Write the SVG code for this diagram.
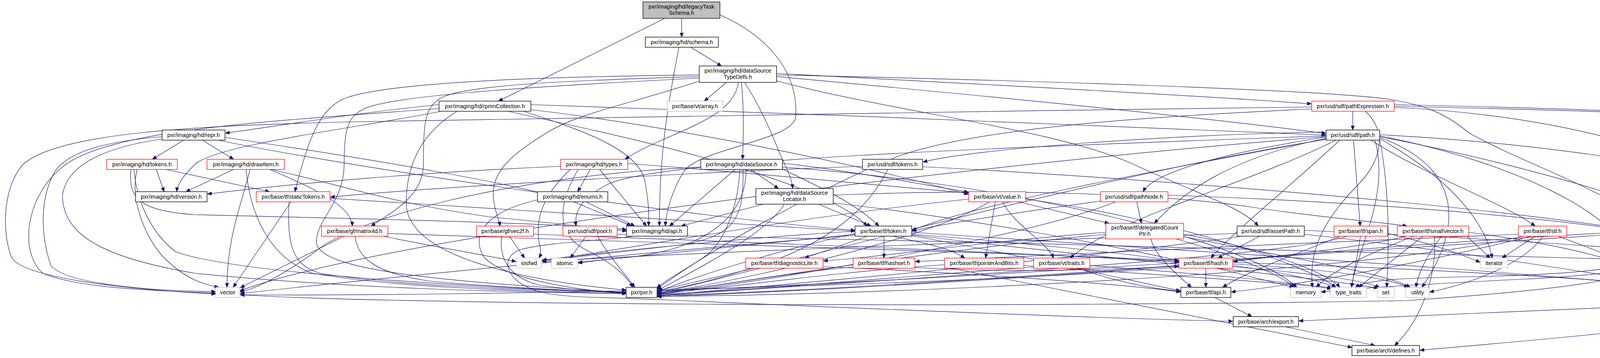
<svg xmlns="http://www.w3.org/2000/svg" width="4979" height="917" viewBox="0 0 4979 917">
<style>
text{font-family:"Liberation Sans",Arial,sans-serif;font-size:14.3px;fill:#000;text-anchor:middle}
.n rect{fill:#fff;stroke-width:1.3}
.k rect{stroke:#333;stroke-width:1.7}
.r rect{stroke:#f00}
.g rect{stroke:#bfbfbf}
#edges path{fill:none;stroke:#191970;stroke-width:1.2;marker-end:url(#ah)}
</style>
<defs>
<marker id="ah" markerUnits="userSpaceOnUse" markerWidth="12" markerHeight="9" refX="11" refY="4.5" orient="auto"><path d="M0,0 L11,4.5 L0,9 z" fill="#191970" stroke="#191970" stroke-width="1"/></marker>
</defs>
<rect x="0" y="0" width="4979" height="917" fill="#fff"/>
<g id="edges">
<path d="M1745,47 L1745,95"/>
<path d="M1702,47 L1276,259"/>
<path d="M1843,38 C1960,90 2045,180 2037,300 C2030,360 1790,380 1750,440 C1720,490 1706,540 1703,579"/>
<path d="M1768,121 L1847,169"/>
<path d="M1738,121 C1712,260 1688,380 1688,579"/>
<path d="M1860,211 L1803,259"/>
<path d="M1890,211 C1880,310 1700,340 1600,408"/>
<path d="M1898,211 C1905,280 1903,350 1901,408"/>
<path d="M1906,211 C1945,270 1975,340 1995,390 C2012,430 2028,455 2029,483"/>
<path d="M1790,208 C1600,270 1480,290 1400,340 C1300,400 1250,450 1265,520 C1270,550 1278,565 1280,579"/>
<path d="M1790,192 C1500,195 1000,205 880,253 C820,280 790,350 755,491"/>
<path d="M1790,196 C1500,205 1200,215 1130,250 C1090,275 1084,300 1084,420 C1084,500 1010,540 950,579"/>
<path d="M1790,200 C1500,215 1000,240 930,280 C890,300 881,330 881,420 C881,520 810,560 810,620 C812,690 1100,720 1603,749"/>
<path d="M1988,188 C2300,205 3000,240 3357,266"/>
<path d="M1988,196 C2300,225 3000,290 3394,342"/>
<path d="M1988,207 C2300,290 2700,330 2900,420 C3050,490 3180,530 3221,579"/>
<path d="M1988,192 C2600,205 3400,230 3560,255 C3650,270 3700,290 3760,340 C3900,420 4150,500 4209,579"/>
<path d="M1124,268 C900,290 700,325 577,341"/>
<path d="M1130,285 C900,330 560,370 500,420 C470,450 455,470 452,491"/>
<path d="M1340,285 C1480,330 1630,380 1650,460 C1660,510 1662,550 1660,579"/>
<path d="M1359,281 C1700,320 2200,420 2479,498"/>
<path d="M1359,268 C2000,290 3000,325 3394,346"/>
<path d="M1124,278 C700,310 300,330 170,420 C60,500 50,650 110,700 C200,740 420,745 552,751"/>
<path d="M1170,285 C1080,340 1040,420 1040,520 C1040,660 1350,720 1603,743"/>
<path d="M1300,285 C1500,330 2100,450 2220,579"/>
<path d="M470,359 L390,408"/>
<path d="M518,359 L598,408"/>
<path d="M558,359 C900,430 1800,560 2189,590"/>
<path d="M415,350 C300,360 180,380 140,440 C95,520 110,620 130,680 C170,730 400,745 552,747"/>
<path d="M415,356 C250,380 170,430 160,500 C160,600 260,660 500,700 C900,740 1300,748 1603,752"/>
<path d="M576,352 C900,400 1400,480 1500,530 C1560,555 1600,570 1615,579"/>
<path d="M400,434 L420,491"/>
<path d="M425,434 L690,491"/>
<path d="M351,434 C330,520 380,620 420,660 C480,720 530,730 560,736"/>
<path d="M343,434 C350,520 390,600 450,645 C600,700 1200,735 1603,750"/>
<path d="M335,434 C330,500 345,540 500,550 C900,560 1400,570 1604,588"/>
<path d="M598,434 L476,491"/>
<path d="M690,434 C850,500 900,540 902,579"/>
<path d="M694,434 C880,475 1000,520 1250,555 C1450,575 1550,585 1604,592"/>
<path d="M630,434 C640,550 690,660 800,700 C1000,735 1300,745 1603,752"/>
<path d="M640,434 C620,520 582,600 581,736"/>
<path d="M745,517 L597,736"/>
<path d="M740,517 C735,620 745,680 820,700 C1000,730 1300,742 1603,748"/>
<path d="M845,508 C1200,530 1900,575 2189,592"/>
<path d="M881,605 L615,737"/>
<path d="M981,605 C1100,630 1250,655 1321,670"/>
<path d="M909,605 C915,660 960,700 1100,720 C1300,738 1500,745 1603,750"/>
<path d="M993,598 C1600,620 2700,650 3018,668"/>
<path d="M1304,605 L1343,661"/>
<path d="M1284,605 C1278,660 1300,710 1380,730 C1480,745 1560,748 1603,750"/>
<path d="M1366,600 C1900,620 2700,650 3018,672"/>
<path d="M1511,434 L1479,491"/>
<path d="M1535,434 L1655,579"/>
<path d="M1435,426 C1100,440 750,470 531,497"/>
<path d="M1607,419 C1900,440 2300,480 2479,494"/>
<path d="M1480,434 C1430,520 1420,600 1500,640 C1560,670 1600,700 1620,736"/>
<path d="M1460,434 C1390,500 1370,560 1380,620 C1385,640 1385,650 1380,661"/>
<path d="M1922,434 L1993,483"/>
<path d="M1882,434 L1714,579"/>
<path d="M2003,433 C2100,480 2190,520 2250,579"/>
<path d="M2003,418 C2200,440 2400,480 2479,492"/>
<path d="M1894,434 C1890,520 1860,620 1800,660 C1740,700 1700,720 1682,738"/>
<path d="M1902,434 C1905,560 1880,600 1760,625 C1600,645 1450,660 1388,668"/>
<path d="M1910,434 C1910,560 1800,640 1600,660 C1520,668 1490,672 1480,674"/>
<path d="M2003,428 C2600,470 3200,620 3320,736"/>
<path d="M1794,428 C1300,450 900,560 800,650 C700,720 650,740 614,748"/>
<path d="M2208,426 C1800,440 1100,480 846,505"/>
<path d="M2362,427 C3000,460 4300,560 4470,661"/>
<path d="M2273,434 C2230,520 2150,600 2000,660 C1850,715 1750,735 1682,748"/>
<path d="M1500,517 L1625,579"/>
<path d="M1376,512 C1250,540 1200,600 1240,660 C1300,720 1500,745 1603,752"/>
<path d="M1954,523 L1744,579"/>
<path d="M2095,523 L2230,579"/>
<path d="M2008,523 C1960,600 1800,680 1682,745"/>
<path d="M2133,500 C2600,480 3000,500 3200,530 C3400,560 3550,570 3602,579"/>
<path d="M2133,520 C2500,560 2900,640 3018,668"/>
<path d="M1500,605 L1460,661"/>
<path d="M1530,605 C1560,660 1600,700 1625,736"/>
<path d="M1580,600 C2500,620 3800,650 4449,672"/>
<path d="M1623,605 C1560,615 1400,620 1330,640 C1280,660 1290,720 1380,747 C1450,765 1550,760 1700,768 C2200,790 2800,815 3156,823"/>
<path d="M2221,605 L2060,661"/>
<path d="M2263,605 L2263,661"/>
<path d="M2285,605 C2350,620 2420,630 2470,661"/>
<path d="M2334,600 C2600,620 2900,650 3018,670"/>
<path d="M2334,604 C2600,650 2900,720 3022,745"/>
<path d="M2189,598 C2000,640 1800,700 1682,748"/>
<path d="M2189,592 C1900,610 1600,640 1388,666"/>
<path d="M2189,600 C1900,630 1600,660 1480,672"/>
<path d="M2189,603 C1600,650 900,720 615,752"/>
<path d="M2334,595 C3000,640 4000,700 4383,748"/>
<path d="M2334,602 C2800,660 3300,700 3528,738"/>
<path d="M3532,350 C3900,420 4400,560 4490,661"/>
<path d="M3395,348 C2500,380 1700,410 1560,470 C1480,510 1470,550 1475,579"/>
<path d="M3395,338 C3000,345 2500,380 2363,415"/>
<path d="M3395,354 C3150,405 3030,490 2955,572"/>
<path d="M3395,351 C3080,400 2950,450 2926,491"/>
<path d="M3465,359 L3482,579"/>
<path d="M3510,359 C3650,450 3850,520 3930,579"/>
<path d="M3395,356 C3000,430 2500,520 2335,590"/>
<path d="M3420,359 C3200,470 2850,560 2740,661"/>
<path d="M3532,355 C3700,450 3800,560 3820,661"/>
<path d="M3532,357 C3560,500 3555,650 3550,736"/>
<path d="M3532,345 C4200,380 4700,500 4700,600 C4700,700 4500,745 4443,749"/>
<path d="M3520,359 C3560,500 3470,650 3460,736"/>
<path d="M3532,352 C3800,450 3700,650 3640,736"/>
<path d="M3395,350 C2500,420 1000,600 614,745"/>
<path d="M3532,348 C3900,420 4150,560 4170,661"/>
<path d="M3395,357 C2800,450 2000,680 1682,752"/>
<path d="M3430,359 C3300,480 3150,600 3100,661"/>
<path d="M2548,517 L2523,661"/>
<path d="M2566,517 C2600,580 2680,620 2697,661"/>
<path d="M2607,517 L2839,572"/>
<path d="M2533,517 C2400,600 2000,700 1682,752"/>
<path d="M2480,510 C2000,560 1600,640 1388,668"/>
<path d="M2626,510 C3000,560 3350,680 3420,736"/>
<path d="M2910,517 L2922,572"/>
<path d="M2990,500 C3600,520 4300,580 4480,661"/>
<path d="M2856,517 C2650,600 2100,700 1682,755"/>
<path d="M2817,515 C2600,545 2400,575 2335,592"/>
<path d="M2946,612 C2960,660 3010,700 3050,736"/>
<path d="M3010,612 C3150,650 3270,700 3316,736"/>
<path d="M2831,600 C2400,640 1900,720 1682,754"/>
<path d="M2831,595 C2500,620 2250,660 2108,668"/>
<path d="M3030,600 C3250,640 3400,700 3430,736"/>
<path d="M3030,606 C3300,660 3550,700 3610,736"/>
<path d="M3225,605 L3118,661"/>
<path d="M3339,590 C3800,610 4300,640 4450,668"/>
<path d="M3180,605 C2800,660 2000,730 1682,757"/>
<path d="M3339,600 C3800,650 4200,720 4383,750"/>
<path d="M3167,598 C2500,620 1700,650 1388,670"/>
<path d="M3483,605 L3460,736"/>
<path d="M3552,598 C3650,620 3740,650 3789,672"/>
<path d="M3448,605 C3300,660 2200,720 1682,758"/>
<path d="M3430,605 C3350,640 3200,690 3130,736"/>
<path d="M3672,605 C3680,700 3640,820 3570,885"/>
<path d="M3643,605 L3478,736"/>
<path d="M3755,605 L3815,661"/>
<path d="M3760,595 C3950,620 4080,650 4139,672"/>
<path d="M3620,605 C3500,650 3400,700 3370,736"/>
<path d="M3690,605 C3650,660 3630,700 3625,736"/>
<path d="M3600,605 C3300,680 2200,740 1682,760"/>
<path d="M3930,605 L3845,661"/>
<path d="M3989,605 L4137,661"/>
<path d="M3887,600 C3400,620 2700,650 2343,670"/>
<path d="M3950,605 C3900,680 3750,730 3660,748"/>
<path d="M3920,605 C3700,660 3400,720 3152,748"/>
<path d="M3900,605 C3500,700 2300,755 1683,759"/>
<path d="M4280,605 C4370,650 4400,700 4413,736"/>
<path d="M4230,605 L4193,661"/>
<path d="M4138,600 C3500,640 2400,720 1682,745"/>
<path d="M4138,595 C3700,620 3300,650 3157,670"/>
<path d="M4243,605 C4245,680 4200,700 3900,715 C3600,730 3450,740 3382,748"/>
<path d="M4255,605 C4280,680 4100,700 3800,708 C3600,712 3500,715 3470,736"/>
<path d="M4265,605 C4330,700 4100,735 3600,770 C2500,790 1000,780 615,755"/>
<path d="M1932,687 L1685,744"/>
<path d="M2107,683 C2500,700 2900,730 3022,748"/>
<path d="M2184,684 C2000,700 1800,740 1682,750"/>
<path d="M2342,685 C2600,700 2850,690 3018,682"/>
<path d="M2420,684 L3461,890"/>
<path d="M2418,678 C2100,700 1850,740 1682,752"/>
<path d="M2621,680 C2900,700 3300,725 3410,737"/>
<path d="M2646,684 C2300,710 1900,745 1682,754"/>
<path d="M2790,680 C3050,700 3300,720 3408,740"/>
<path d="M2760,687 C2850,720 2950,740 3022,746"/>
<path d="M3087,687 L3087,736"/>
<path d="M3115,687 L3312,736"/>
<path d="M3156,680 C3300,700 3380,720 3420,736"/>
<path d="M3156,683 C3350,700 3480,715 3532,736"/>
<path d="M3156,676 C3400,690 3550,710 3605,736"/>
<path d="M3156,672 C3700,690 4200,720 4383,745"/>
<path d="M3018,684 C2500,730 1200,760 615,755"/>
<path d="M3018,680 C2600,710 2000,750 1682,757"/>
<path d="M3110,762 L3205,811"/>
<path d="M4516,687 C4510,740 4460,770 4300,780 C3900,800 3500,815 3325,822"/>
<path d="M3290,837 L3520,885"/>
<path d="M3463,285 L3463,333"/>
<path d="M3569,275 C4100,300 4560,450 4540,661"/>
<path d="M3569,268 C4300,285 4860,300 4871,420 L4871,600 C4870,690 4600,740 4443,749"/>
<path d="M3569,272 C4300,290 4930,300 4935,420 L4935,640 C4930,780 4300,840 3635,897"/>
<path d="M3358,274 C2500,285 1500,300 900,312 C500,322 150,340 60,420 C5,480 5,600 30,660 C60,710 300,740 552,753"/>
<path d="M3358,279 C2900,300 2500,330 2300,400 C2100,480 1800,650 1682,741"/>
<path d="M3495,285 C3545,330 3545,400 3480,470 C3380,570 3350,650 3360,736"/>
</g>
<g id="n1" class="n k"><rect x="1646" y="5" width="197" height="42" style="fill:#bfbfbf"/><text x="1744.5" y="22">pxr/imaging/hd/legacyTask</text><text x="1744.5" y="38">Schema.h</text></g>
<g id="n2" class="n k"><rect x="1652" y="95" width="187" height="26"/><text x="1745.5" y="113">pxr/imaging/hd/schema.h</text></g>
<g id="n3" class="n k"><rect x="1790" y="169" width="198" height="42"/><text x="1889" y="186">pxr/imaging/hd/dataSource</text><text x="1889" y="202">TypeDefs.h</text></g>
<g id="n4" class="n k"><rect x="1124" y="259" width="235" height="26"/><text x="1241.5" y="277">pxr/imaging/hd/rprimCollection.h</text></g>
<g id="n5" class="n g"><rect x="1708" y="259" width="143" height="26"/><text x="1779.5" y="277">pxr/base/vt/array.h</text></g>
<g id="n6" class="n r"><rect x="3358" y="259" width="211" height="26"/><text x="3463.5" y="277">pxr/usd/sdf/pathExpression.h</text></g>
<g id="n7" class="n k"><rect x="415" y="333" width="161" height="26"/><text x="495.5" y="351">pxr/imaging/hd/repr.h</text></g>
<g id="n8" class="n r"><rect x="273" y="408" width="181" height="26"/><text x="363.5" y="426">pxr/imaging/hd/tokens.h</text></g>
<g id="n9" class="n r"><rect x="530" y="408" width="198" height="26"/><text x="629" y="426">pxr/imaging/hd/drawItem.h</text></g>
<g id="n10" class="n k"><rect x="347" y="491" width="183" height="26"/><text x="438.5" y="509">pxr/imaging/hd/version.h</text></g>
<g id="n11" class="n r"><rect x="656" y="491" width="189" height="26"/><text x="750.5" y="509">pxr/base/tf/staticTokens.h</text></g>
<g id="n12" class="n r"><rect x="823" y="579" width="170" height="26"/><text x="908" y="597">pxr/base/gf/matrix4d.h</text></g>
<g id="n13" class="n r"><rect x="1220" y="579" width="146" height="26"/><text x="1293" y="597">pxr/base/gf/vec2f.h</text></g>
<g id="n14" class="n r"><rect x="1435" y="408" width="172" height="26"/><text x="1521" y="426">pxr/imaging/hd/types.h</text></g>
<g id="n15" class="n k"><rect x="1794" y="408" width="209" height="26"/><text x="1898.5" y="426">pxr/imaging/hd/dataSource.h</text></g>
<g id="n16" class="n k"><rect x="2208" y="408" width="154" height="26"/><text x="2285" y="426">pxr/usd/sdf/tokens.h</text></g>
<g id="n17" class="n k"><rect x="1376" y="491" width="180" height="26"/><text x="1466" y="509">pxr/imaging/hd/enums.h</text></g>
<g id="n18" class="n k"><rect x="1935" y="483" width="198" height="40"/><text x="2034" y="499">pxr/imaging/hd/dataSource</text><text x="2034" y="515">Locator.h</text></g>
<g id="n19" class="n r"><rect x="1441" y="579" width="139" height="26"/><text x="1510.5" y="597">pxr/usd/sdf/pool.h</text></g>
<g id="n20" class="n k"><rect x="1604" y="579" width="156" height="26"/><text x="1682" y="597">pxr/imaging/hd/api.h</text></g>
<g id="n21" class="n k"><rect x="2189" y="579" width="145" height="26"/><text x="2261.5" y="597">pxr/base/tf/token.h</text></g>
<g id="n22" class="n k"><rect x="3395" y="333" width="137" height="26"/><text x="3463.5" y="351">pxr/usd/sdf/path.h</text></g>
<g id="n23" class="n r"><rect x="2480" y="491" width="146" height="26"/><text x="2553" y="509">pxr/base/vt/value.h</text></g>
<g id="n24" class="n r"><rect x="2817" y="491" width="173" height="26"/><text x="2903.5" y="509">pxr/usd/sdf/pathNode.h</text></g>
<g id="n25" class="n r"><rect x="2831" y="572" width="199" height="40"/><text x="2930.5" y="588">pxr/base/tf/delegatedCount</text><text x="2930.5" y="604">Ptr.h</text></g>
<g id="n26" class="n k"><rect x="3167" y="579" width="172" height="26"/><text x="3253" y="597">pxr/usd/sdf/assetPath.h</text></g>
<g id="n27" class="n r"><rect x="3415" y="579" width="137" height="26"/><text x="3483.5" y="597">pxr/base/tf/span.h</text></g>
<g id="n28" class="n r"><rect x="3577" y="579" width="183" height="26"/><text x="3668.5" y="597">pxr/base/tf/smallVector.h</text></g>
<g id="n29" class="n r"><rect x="3887" y="579" width="124" height="26"/><text x="3949" y="597">pxr/base/tf/stl.h</text></g>
<g id="n30" class="n r"><rect x="4138" y="579" width="206" height="26"/><text x="4241" y="597">pxr/usd/ar/resolverContext.h</text></g>
<g id="n31" class="n g"><rect x="1322" y="661" width="65" height="26"/><text x="1354.5" y="679">iosfwd</text></g>
<g id="n32" class="n g"><rect x="1412" y="661" width="67" height="26"/><text x="1445.5" y="679">atomic</text></g>
<g id="n33" class="n r"><rect x="1909" y="661" width="198" height="26"/><text x="2008" y="679">pxr/base/tf/diagnosticLite.h</text></g>
<g id="n34" class="n r"><rect x="2184" y="661" width="158" height="26"/><text x="2263" y="679">pxr/base/tf/hashset.h</text></g>
<g id="n35" class="n r"><rect x="2418" y="661" width="203" height="26"/><text x="2519.5" y="679">pxr/base/tf/pointerAndBits.h</text></g>
<g id="n36" class="n r"><rect x="2646" y="661" width="144" height="26"/><text x="2718" y="679">pxr/base/vt/traits.h</text></g>
<g id="n37" class="n r"><rect x="3018" y="661" width="138" height="26"/><text x="3087" y="679">pxr/base/tf/hash.h</text></g>
<g id="n38" class="n k"><rect x="1603" y="736" width="79" height="26"/><text x="1642.5" y="754">pxr/pxr.h</text></g>
<g id="n39" class="n g"><rect x="552" y="736" width="62" height="26"/><text x="583" y="754">vector</text></g>
<g id="n40" class="n k"><rect x="3023" y="736" width="128" height="26"/><text x="3087" y="754">pxr/base/tf/api.h</text></g>
<g id="n41" class="n g"><rect x="3304" y="736" width="77" height="26"/><text x="3342.5" y="754">memory</text></g>
<g id="n42" class="n g"><rect x="3406" y="736" width="92" height="26"/><text x="3452" y="754">type_traits</text></g>
<g id="n43" class="n g"><rect x="3526" y="736" width="43" height="26"/><text x="3547.5" y="754">set</text></g>
<g id="n44" class="n g"><rect x="3599" y="736" width="60" height="26"/><text x="3629" y="754">utility</text></g>
<g id="n45" class="n g"><rect x="3790" y="661" width="70" height="26"/><text x="3825" y="679">iterator</text></g>
<g id="n46" class="n g"><rect x="4139" y="661" width="85" height="26"/><text x="4181.5" y="679">algorithm</text></g>
<g id="n47" class="n k"><rect x="4450" y="661" width="132" height="26"/><text x="4516" y="679">pxr/usd/sdf/api.h</text></g>
<g id="n48" class="n g"><rect x="4384" y="736" width="59" height="26"/><text x="4413.5" y="754">string</text></g>
<g id="n49" class="n k"><rect x="3157" y="811" width="167" height="26"/><text x="3240.5" y="829">pxr/base/arch/export.h</text></g>
<g id="n50" class="n k"><rect x="3461" y="885" width="173" height="26"/><text x="3547.5" y="903">pxr/base/arch/defines.h</text></g>
</svg>
